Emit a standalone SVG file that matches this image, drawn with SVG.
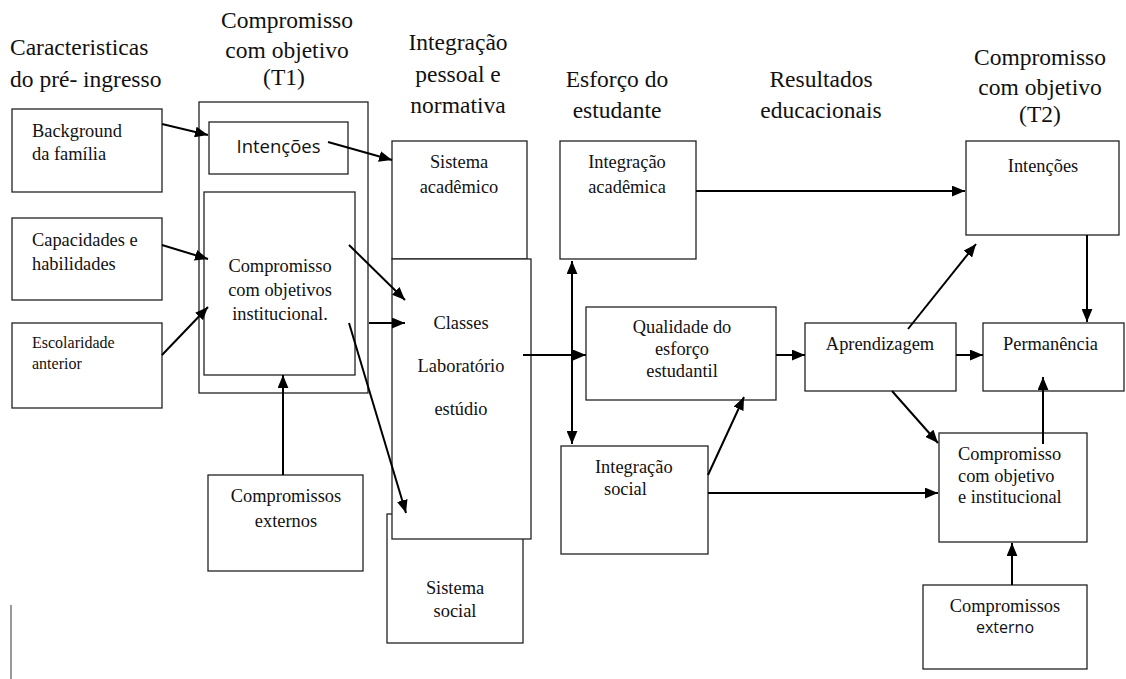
<svg xmlns="http://www.w3.org/2000/svg" width="1126" height="679" viewBox="0 0 1126 679">
<style>
.box{fill:#fff;stroke:#222;stroke-width:1.3}
.hd,.hl,.t,.tc,.ts{font-family:'Liberation Serif','Times New Roman',Times,'Nimbus Roman','DejaVu Serif',serif;fill:#111}
.hd{font-size:23.5px;text-anchor:middle}
.hl{font-size:23.5px}
.t{font-size:18.4px}
.tc{font-size:18.4px;text-anchor:middle}
.ts{font-size:16px}
.sans{font-family:'Open Sans','Liberation Sans',sans-serif;fill:#111;text-anchor:middle}
.c{stroke:#000;stroke-width:2;fill:none;marker-end:url(#ah)}
</style>
<defs>
<marker id="ah" viewBox="0 0 12 10" refX="12" refY="5" markerWidth="13" markerHeight="11" markerUnits="userSpaceOnUse" orient="auto-start-reverse">
<path d="M0,0 L12,5 L0,10 z" fill="#000"/>
</marker>
</defs>
<rect width="1126" height="679" fill="#fff"/>

<g id="headers">
<text class="hl" x="10" y="55">Caracteristicas</text>
<text class="hl" x="10" y="87">do pré- ingresso</text>
<text class="hd" x="287" y="28">Compromisso</text>
<text class="hd" x="287" y="58">com objetivo</text>
<text class="hd" x="284" y="85">(T1)</text>
<text class="hd" x="458" y="50">Integração</text>
<text class="hd" x="458" y="82">pessoal e</text>
<text class="hd" x="458" y="113">normativa</text>
<text class="hd" x="617" y="87">Esforço do</text>
<text class="hd" x="617" y="118">estudante</text>
<text class="hd" x="821" y="87">Resultados</text>
<text class="hd" x="821" y="118">educacionais</text>
<text class="hd" x="1040" y="65">Compromisso</text>
<text class="hd" x="1040" y="95">com objetivo</text>
<text class="hd" x="1040" y="122">(T2)</text>
</g>

<g id="background">
<rect class="box" x="12" y="109" width="150" height="83"/>
<text class="t" x="32" y="137">Background</text>
<text class="t" x="32" y="160">da família</text>
</g>
<g id="capacidades">
<rect class="box" x="12" y="218" width="150" height="82"/>
<text class="t" x="32" y="246">Capacidades e</text>
<text class="t" x="32" y="270">habilidades</text>
</g>
<g id="escolaridade">
<rect class="box" x="12" y="323" width="150" height="85"/>
<text class="ts" x="32" y="348">Escolaridade</text>
<text class="ts" x="32" y="369">anterior</text>
</g>

<g id="t1-outer">
<rect class="box" x="199" y="102" width="169" height="291"/>
</g>
<g id="t1-intencoes">
<rect class="box" x="209" y="122" width="139" height="52"/>
<text class="sans" x="278.5" y="153" font-size="18.5">Intenções</text>
</g>
<g id="t1-compromisso">
<rect class="box" x="204" y="192" width="151" height="183"/>
<text class="tc" x="280" y="272">Compromisso</text>
<text class="tc" x="280" y="296">com objetivos</text>
<text class="tc" x="280" y="320">institucional.</text>
</g>
<g id="compromissos-externos">
<rect class="box" x="208" y="475" width="155" height="96"/>
<text class="tc" x="286" y="502">Compromissos</text>
<text class="tc" x="286" y="527">externos</text>
</g>

<g id="sistema-social">
<rect class="box" x="387" y="514" width="136" height="129"/>
<text class="tc" x="455" y="594">Sistema</text>
<text class="tc" x="455" y="617">social</text>
</g>
<g id="sistema-academico">
<rect class="box" x="392" y="141" width="135" height="118"/>
<text class="tc" x="459" y="168">Sistema</text>
<text class="tc" x="459" y="193">acadêmico</text>
</g>
<g id="classes">
<rect class="box" x="392" y="259" width="139" height="280"/>
<text class="tc" x="461" y="329">Classes</text>
<text class="tc" x="461" y="372">Laboratório</text>
<text class="tc" x="461" y="415">estúdio</text>
</g>

<g id="integracao-academica">
<rect class="box" x="560" y="141" width="136" height="118"/>
<text class="tc" x="627" y="168">Integração</text>
<text class="tc" x="627" y="193">acadêmica</text>
</g>
<g id="qualidade">
<rect class="box" x="586" y="307" width="190" height="93"/>
<text class="tc" x="682" y="333">Qualidade do</text>
<text class="tc" x="682" y="355">esforço</text>
<text class="tc" x="682" y="377">estudantil</text>
</g>
<g id="integracao-social">
<rect class="box" x="561" y="446" width="147" height="108"/>
<text class="t" x="595" y="473">Integração</text>
<text class="t" x="604" y="495">social</text>
</g>

<g id="aprendizagem">
<rect class="box" x="805" y="323" width="151" height="68"/>
<text class="tc" x="880" y="350">Aprendizagem</text>
</g>
<g id="t2-intencoes">
<rect class="box" x="966" y="141" width="153" height="94"/>
<text class="tc" x="1043" y="172">Intenções</text>
</g>
<g id="permanencia">
<rect class="box" x="983" y="323" width="141" height="68"/>
<text class="t" x="1003" y="350">Permanência</text>
</g>
<g id="t2-compromisso">
<rect class="box" x="939" y="433" width="148" height="109"/>
<text class="t" x="958" y="460">Compromisso</text>
<text class="t" x="958" y="482">com objetivo</text>
<text class="t" x="958" y="503">e institucional</text>
</g>
<g id="compromissos-externo">
<rect class="box" x="923" y="585" width="164" height="84"/>
<text class="tc" x="1005" y="612">Compromissos</text>
<text class="sans" x="1005" y="633" font-size="16">externo</text>
</g>

<g id="connectors">
<line class="c" x1="162" y1="124" x2="208" y2="135"/>
<line class="c" x1="162" y1="245" x2="208" y2="259"/>
<line class="c" x1="162" y1="355" x2="208" y2="307"/>
<line class="c" x1="283" y1="475" x2="283" y2="375"/>
<line class="c" x1="328" y1="142" x2="392" y2="160"/>
<line class="c" x1="349" y1="245" x2="405" y2="300"/>
<line class="c" x1="369" y1="323" x2="405" y2="323"/>
<line class="c" x1="349" y1="323" x2="406" y2="513"/>
<line class="c" x1="523" y1="355" x2="586" y2="355"/>
<line class="c" x1="572" y1="261" x2="572" y2="444" marker-start="url(#ah)"/>
<line class="c" x1="696" y1="191" x2="965" y2="191"/>
<line class="c" x1="776" y1="355" x2="805" y2="355"/>
<line class="c" x1="708" y1="475" x2="744" y2="397"/>
<line class="c" x1="708" y1="493" x2="938" y2="493"/>
<line class="c" x1="908" y1="329" x2="976" y2="244"/>
<line class="c" x1="892" y1="391" x2="938" y2="443"/>
<line class="c" x1="956" y1="355" x2="983" y2="355"/>
<line class="c" x1="1087" y1="235" x2="1087" y2="322"/>
<line class="c" x1="1043" y1="444" x2="1043" y2="377"/>
<line class="c" x1="1012" y1="585" x2="1012" y2="543"/>
</g>
<line x1="11" y1="605" x2="11" y2="679" stroke="#777" stroke-width="1.5"/>
</svg>
